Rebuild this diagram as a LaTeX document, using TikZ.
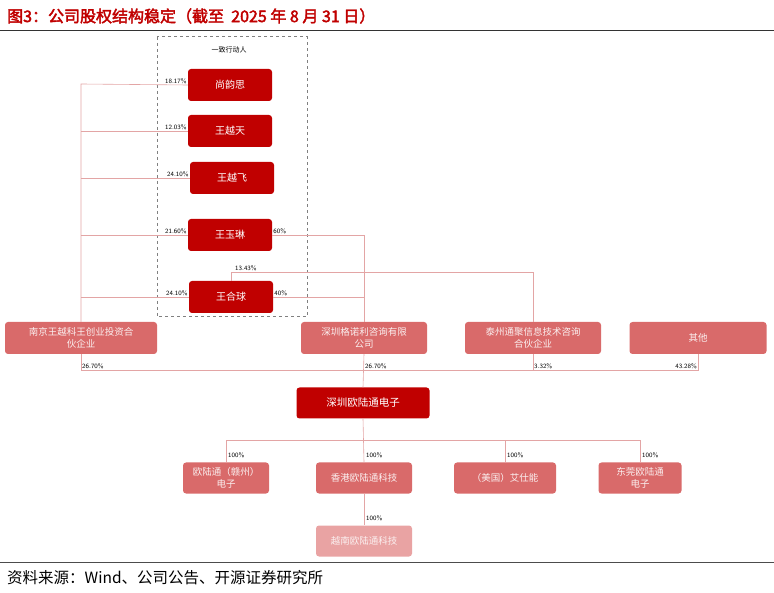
\documentclass[tikz,border=0pt]{standalone}
\usepackage{fontspec}
\setmainfont{Liberation Serif}
\newfontfamily\cjk[AutoFakeBold=2.5]{Noto Sans CJK SC}
\usetikzlibrary{calc}
\definecolor{deepred}{HTML}{C00000}
\definecolor{midred}{HTML}{D96A6A}
\definecolor{palered}{HTML}{E9A3A3}
\definecolor{linkred}{HTML}{E3A5A5}
\begin{document}
\begin{tikzpicture}[x=1pt,y=-1pt,
    person/.style ={rectangle, rounded corners=3pt, fill=deepred, text=white, font=\cjk\fontsize{10}{11}\selectfont, minimum width=84pt, minimum height=32pt, inner sep=0pt},
    firm/.style ={rectangle, rounded corners=3pt, fill=midred, text=white!90!midred, font=\cjk\fontsize{9.5}{12}\selectfont, align=center, minimum height=32pt, inner sep=0pt},
    pct/.style ={font=\sffamily\fontsize{6.5}{7}\selectfont, inner sep=1pt},
    link/.style ={draw=linkred, line width=0.6pt}]
   \useasboundingbox (0,0) rectangle (774,593);
   % title and rules
   \node[anchor=west, text=deepred, font=\cjk\bfseries\fontsize{16}{18}\selectfont, inner sep=0pt] (title) at (7,16) {图3：公司股权结构稳定（截至\ \ 2025\ 年\ 8\ 月\ 31\ 日）};
   \draw[line width=1pt, black!80] (0,31) -- (774,31);
   \draw[line width=1pt, black!70] (0,562) -- (774,562);
   \node[anchor=west, font=\cjk\fontsize{15.5}{17}\selectfont, inner sep=0pt] (src) at (7,578) {资料来源：Wind、公司公告、开源证券研究所};

   % acting in concert
   \draw[dashed, gray, line width=1pt] (157,37) rectangle (307,317);
   \node[font=\cjk\fontsize{7}{8}\selectfont] (group) at (229,50) {一致行动人};
   \node[person] (A) at (230,85)  {尚韵思};
   \node[person] (B) at (230,131) {王越天};
   \node[person] (C) at (232,178) {王越飞};
   \node[person] (D) at (230,235) {王玉琳};
   \node[person] (E) at (231,297) {王合球};

   % shareholders
   \node[firm, minimum width=152pt] (F) at (81,338)  {南京王越科王创业投资合\\伙企业};
   \node[firm, minimum width=126pt] (G) at (364,338) {深圳格诺利咨询有限\\公司};
   \node[firm, minimum width=136pt] (H) at (533,338) {泰州通聚信息技术咨询\\合伙企业};
   \node[firm, minimum width=137pt] (I) at (698,338) {其他};

   \node[person, minimum width=133pt, minimum height=31pt, font=\cjk\fontsize{10.5}{11}\selectfont] (J) at (363,403) {深圳欧陆通电子};

   % subsidiaries
   \node[firm, minimum width=86pt, minimum height=31pt] (K) at (226,478) {欧陆通（赣州）\\电子};
   \node[firm, minimum width=96pt, minimum height=31pt] (L) at (364,478) {香港欧陆通科技};
   \node[firm, minimum width=102pt, minimum height=31pt] (M) at (505,478) {（美国）艾仕能};
   \node[firm, minimum width=83pt, minimum height=31pt] (N) at (640,478) {东莞欧陆通\\电子};
   \node[firm, fill=palered, minimum width=96pt, minimum height=31pt] (O) at (364,541) {越南欧陆通科技};

   % holdings of the persons in F
   \coordinate (Ftop) at (81,84);
   \draw[link] (A.west) -- (Ftop) -- (F.north);
   \draw[link] (B.west) -- (B.west -| F.north);
   \draw[link] (C.west) -- (C.west -| F.north);
   \draw[link] (D.west) -- (D.west -| F.north);
   \draw[link] (E.west) -- (E.west -| F.north);
   \node[pct, anchor=south east] at (A.west) {18.17\%};
   \node[pct, anchor=south east] at (B.west) {12.03\%};
   \node[pct, anchor=south east] at (C.west) {24.10\%};
   \node[pct, anchor=south east] at (D.west) {21.60\%};
   \node[pct, anchor=south east] at (E.west) {24.10\%};

   % holdings in G and H
   \draw[link] (D.east) -- (D.east -| G.north) -- (G.north);
   \draw[link] (E.east) -- (E.east -| G.north);
   \node[pct, anchor=south west] at (D.east) {60\%};
   \node[pct, anchor=south west] at (E.east) {40\%};
   \coordinate (Hbar) at (E.north |- 0,272);
   \draw[link] (E.north) -- (Hbar) -- (Hbar -| H.north) -- (H.north);
   \node[pct, anchor=south west] at ($(Hbar)+(3,0)$) {13.43\%};

   % holdings in J
   \coordinate (Jbar) at (F.south |- 0,370);
   \draw[link] (F.south) -- (Jbar) -- (Jbar -| I.south) -- (I.south);
   \draw[link] (H.south) -- (H.south |- Jbar);
   \draw[link] (G.south) -- (J.north);
   \node[pct, anchor=south west] at (Jbar) {26.70\%};
   \node[pct, anchor=south west] at (G.south |- Jbar) {26.70\%};
   \node[pct, anchor=south west] at (H.south |- Jbar) {3.32\%};
   \node[pct, anchor=south east] at (I.south |- Jbar) {43.28\%};

   % subsidiaries of J
   \coordinate (Kbar) at (J.south |- 0,440);
   \draw[link] (J.south) -- (L.north);
   \draw[link] (K.north) -- (K.north |- Kbar) -- (Kbar -| N.north) -- (N.north);
   \draw[link] (M.north) -- (M.north |- Kbar);
   \draw[link] (L.south) -- (O.north);
   \foreach \s in {K,L,M,N,O}
      \node[pct, anchor=south west] at ($(\s.north)+(1,-3)$) {100\%};
 \end{tikzpicture}
\end{document}
